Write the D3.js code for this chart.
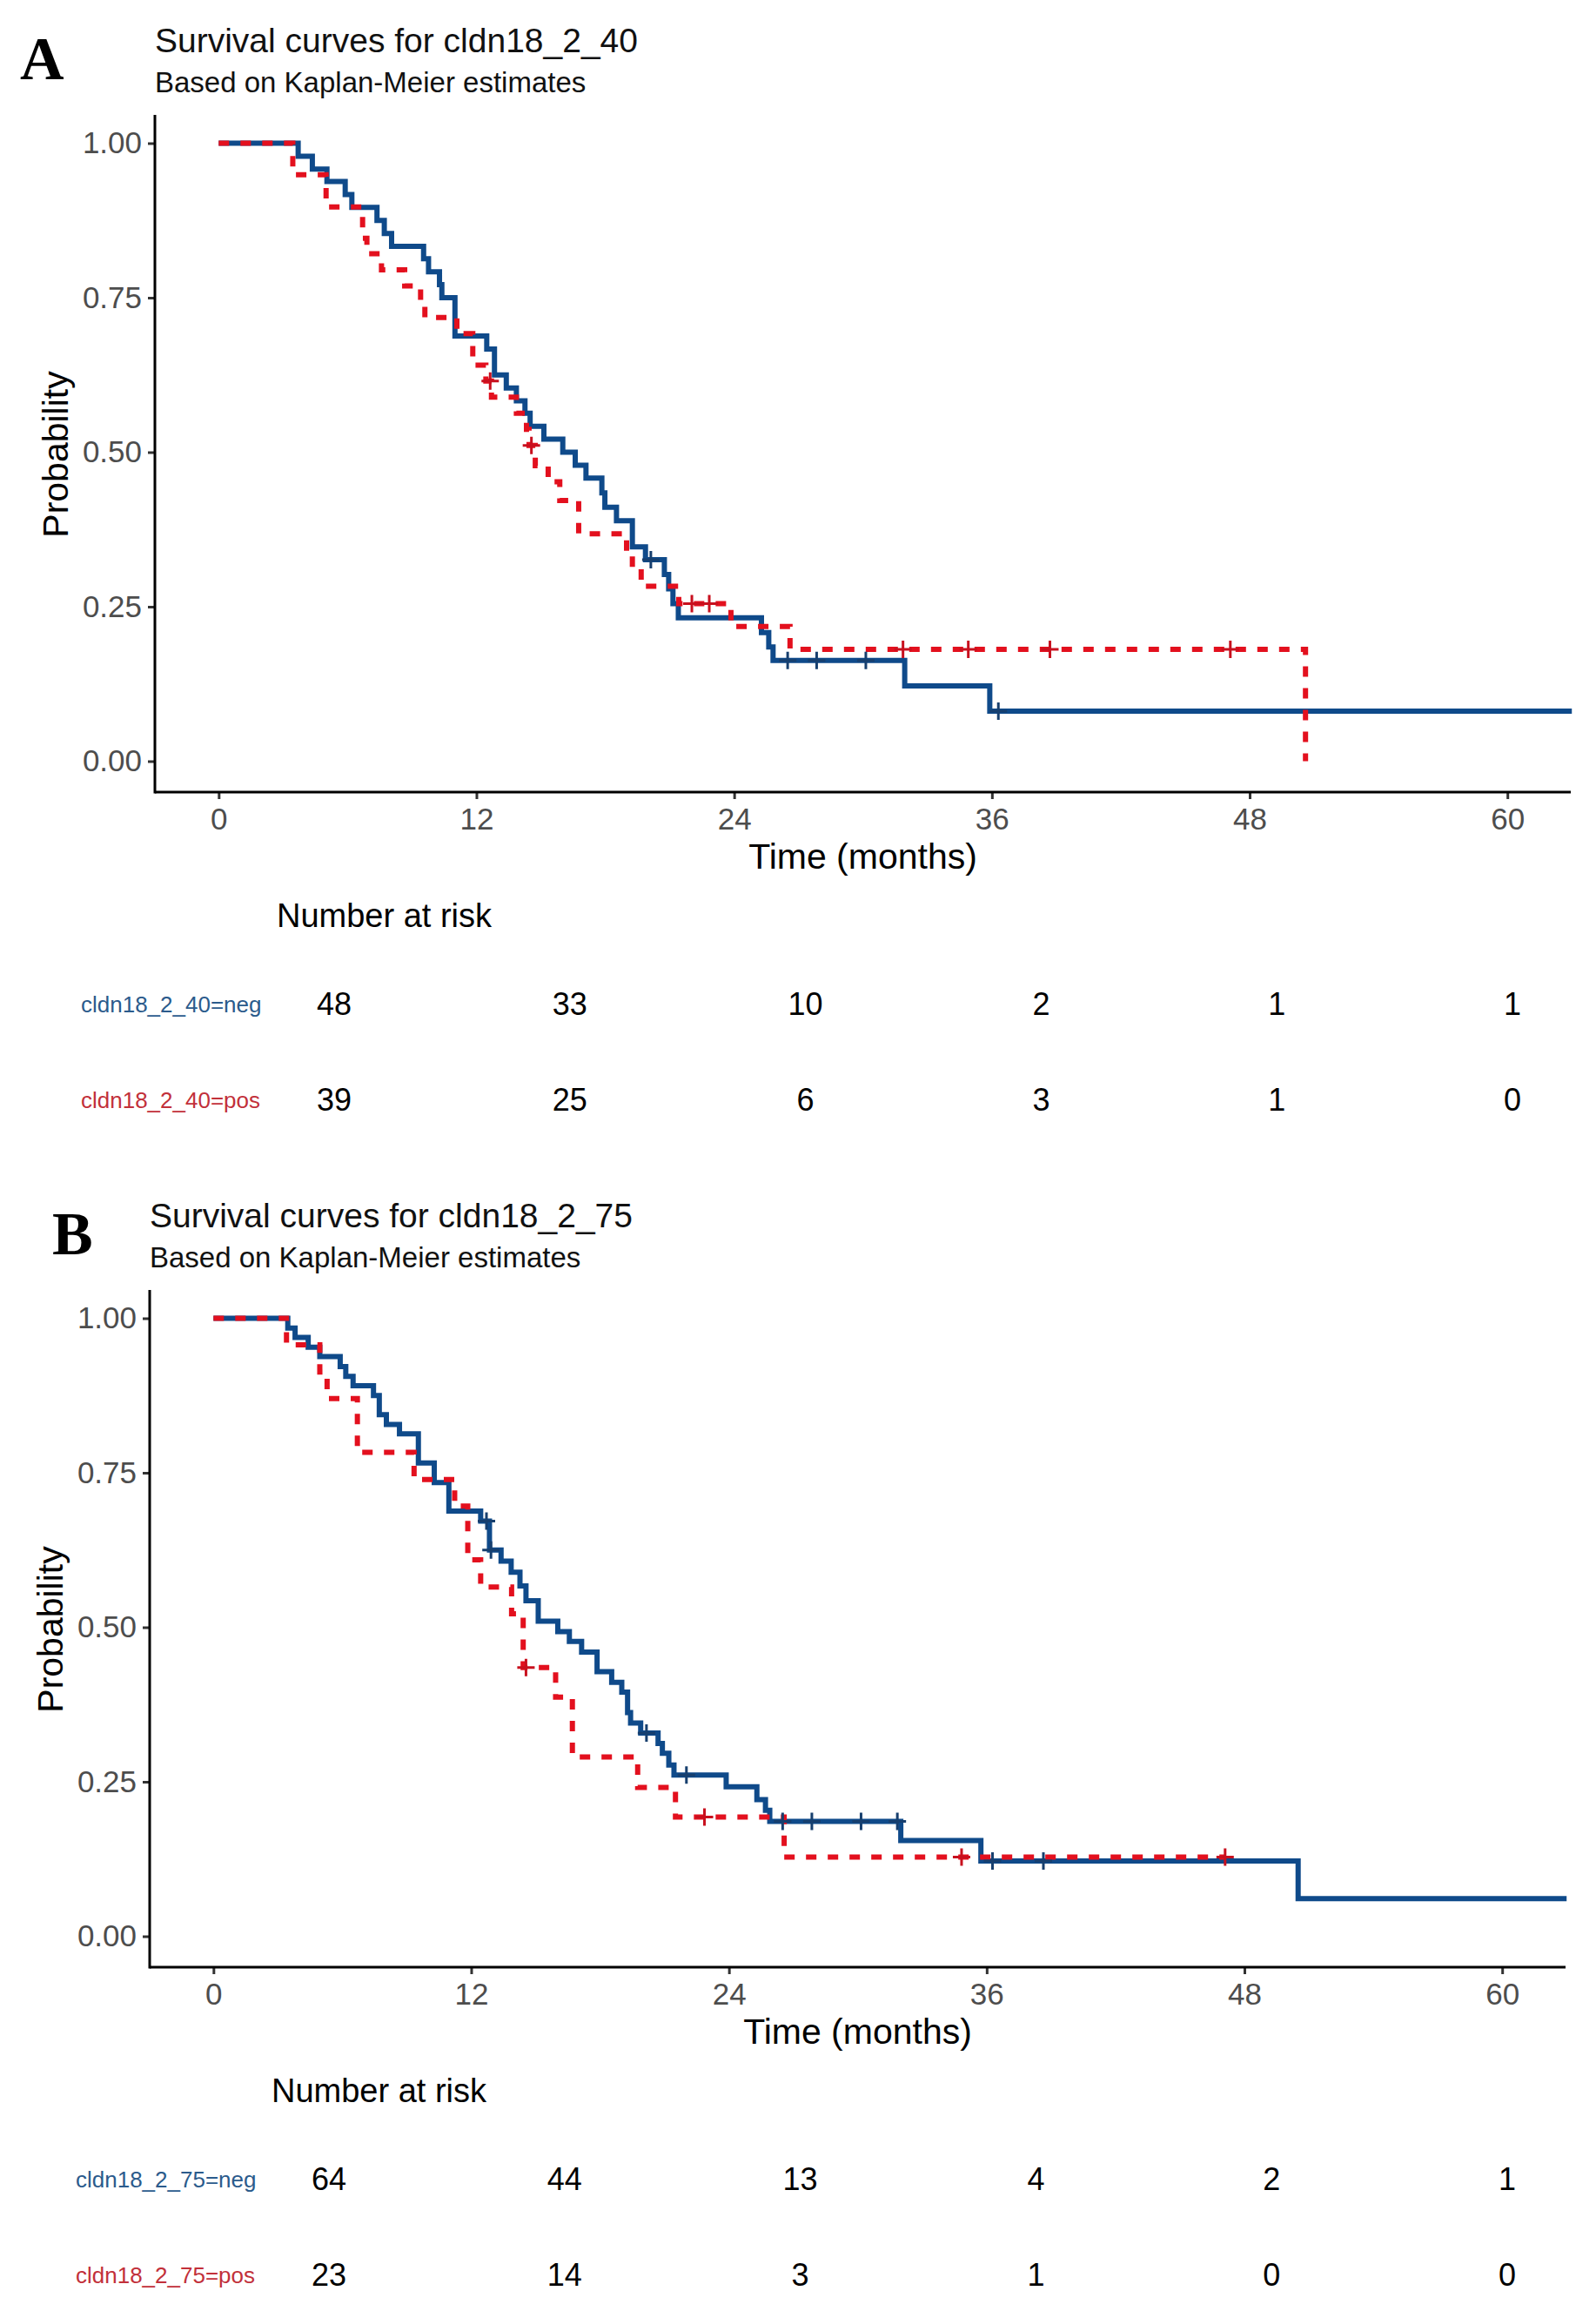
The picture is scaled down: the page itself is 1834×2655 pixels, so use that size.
<!DOCTYPE html>
<html>
<head>
<meta charset="utf-8">
<script src="https://cdn.jsdelivr.net/npm/d3@7"></script>
<style>
  body { margin: 0; background: #fff; }
  text { font-family: "Liberation Sans", Arial, sans-serif; }
</style>
</head>
<body>
<svg id="fig" width="1834" height="2655"></svg>
<script>

// ---- data ----
var xTicks = [0, 12, 24, 36, 48, 60];
var yTicks = [0, 0.25, 0.5, 0.75, 1];
var riskTimes = [0, 12, 24, 36, 48, 60];

// panel A, cldn18_2_40=neg
var aNegTime = [0, 3.7, 4.36, 5.04, 5.89, 6.2, 7.37, 7.71, 8.05, 9.54, 9.77, 10.28, 10.39, 11.0, 12.48, 12.84,
  13.39, 13.86, 14.26, 14.5, 15.14, 16.02, 16.6, 17.1, 17.84, 17.98, 18.52, 19.26, 19.87, 20.75, 20.95,
  21.15, 21.4, 25.27, 25.61, 25.81, 31.94, 35.9, 63];
var aNegSurv = [1, 0.979, 0.958, 0.938, 0.917, 0.896, 0.875, 0.854, 0.833, 0.813, 0.792, 0.771, 0.75, 0.688, 0.667, 0.625,
  0.604, 0.583, 0.563, 0.542, 0.521, 0.5, 0.479, 0.458, 0.434, 0.411, 0.389, 0.347, 0.326, 0.302, 0.279,
  0.255, 0.232, 0.208, 0.185, 0.163, 0.122, 0.081, 0.081];
var aNegCens = [20.12, 26.49, 27.84, 30.13, 36.3];

// panel A, cldn18_2_40=pos
var aPosTime = [0, 3.45, 5.0, 6.7, 6.9, 7.58, 8.66, 9.4, 9.6, 11.09, 11.83, 12.44, 12.7, 13.86, 14.33,
  14.45, 14.74, 15.34, 15.88, 16.76, 18.99, 19.26, 19.67, 21.42, 23.85, 26.6, 50.6];
var aPosSurv = [1, 0.949, 0.897, 0.846, 0.821, 0.795, 0.769, 0.744, 0.718, 0.692, 0.641, 0.615, 0.589, 0.563, 0.537,
  0.511, 0.478, 0.452, 0.422, 0.368, 0.340, 0.312, 0.283, 0.255, 0.218, 0.181, 0];
var aPosCens = [12.64, 14.56, 22.03, 22.84, 31.86, 34.9, 38.7, 47.1];

// panel B, cldn18_2_75=neg
var bNegTime = [0, 3.46, 3.8, 4.41, 4.95, 5.9, 6.16, 6.5, 7.45, 7.72, 8.05, 8.66, 9.54, 10.28, 10.96,
  12.44, 12.85, 13.39, 13.86, 14.27, 14.55, 15.12, 16.03, 16.57, 17.14, 17.86, 18.54, 19.01, 19.28, 19.42,
  19.89, 20.7, 20.9, 21.2, 21.44, 23.87, 25.3, 25.7, 25.9, 32.0, 35.73, 50.5, 63];
var bNegSurv = [1, 0.984, 0.969, 0.953, 0.938, 0.922, 0.906, 0.891, 0.875, 0.844, 0.828, 0.813, 0.766, 0.734, 0.688,
  0.672, 0.625, 0.607, 0.589, 0.567, 0.543, 0.51, 0.493, 0.477, 0.46, 0.428, 0.411, 0.395, 0.362, 0.345,
  0.329, 0.312, 0.296, 0.277, 0.261, 0.242, 0.221, 0.204, 0.186, 0.155, 0.122, 0.061, 0.061];
var bNegCens = [12.71, 12.92, 20.16, 22.02, 26.5, 27.86, 30.15, 31.84, 36.27, 38.64];

// panel B, cldn18_2_75=pos
var bPosTime = [0, 3.4, 4.95, 5.29, 6.7, 9.34, 11.23, 11.84, 12.44, 13.88, 14.42, 15.93, 16.71, 19.75, 21.51, 26.57, 47.1];
var bPosSurv = [1, 0.957, 0.913, 0.870, 0.783, 0.739, 0.696, 0.609, 0.565, 0.522, 0.435, 0.387, 0.290, 0.241, 0.193, 0.128, 0.128];
var bPosCens = [14.55, 22.86, 34.83, 47.1];

// numbers at risk
var riskANeg = [48, 33, 10, 2, 1, 1];
var riskAPos = [39, 25, 6, 3, 1, 0];
var riskBNeg = [64, 44, 13, 4, 2, 1];
var riskBPos = [23, 14, 3, 1, 0, 0];

// ---- drawing ----
var svg = d3.select("#fig");
svg.append("rect").attr("width", 1834).attr("height", 2655).attr("fill", "#fff");

var blue = "#0f4a8a", red = "#e3101e";
var blueText = "#2b5b8c", redText = "#c2303a";

function stepValue(time, surv, t) {
  var v = surv[0];
  for (var i = 0; i < time.length; i++) { if (time[i] <= t) v = surv[i]; }
  return v;
}

function drawPanel(p) {
  var g = svg.append("g").attr("transform", "translate(" + p.dx + "," + p.dy + ")");

  var x = d3.scaleLinear().domain([-2.97, 62.95]).range([178, 1805]);
  var y = d3.scaleLinear().domain([0, 1]).range([874.5, 164.5]);
  var xt = d3.scaleLinear().domain([0, 60]).range([384, 1738]);

  // panel letter + titles
  g.append("text").attr("x", p.letterX - p.dx).attr("y", 91)
    .style("font-family", "'Liberation Serif', 'Times New Roman', serif")
    .style("font-weight", "bold").style("font-size", "70px").text(p.letter);
  g.append("text").attr("x", 178).attr("y", 59.5).style("font-size", "39px").attr("fill", "#111").text(p.title);
  g.append("text").attr("x", 178).attr("y", 106).style("font-size", "33px").attr("fill", "#111")
    .text("Based on Kaplan-Meier estimates");

  // axes
  var xAxis = g.append("g").attr("transform", "translate(0,910)")
    .call(d3.axisBottom(x).tickValues(xTicks).tickSize(8).tickPadding(8));
  var yAxis = g.append("g").attr("transform", "translate(178,0)")
    .call(d3.axisLeft(y).tickValues(yTicks).tickSize(8).tickPadding(7).tickFormat(d3.format(".2f")));
  [xAxis, yAxis].forEach(function(a) {
    a.select(".domain").remove();
    a.selectAll(".tick line").attr("stroke", "#333").attr("stroke-width", 3);
    a.selectAll(".tick text").attr("fill", "#4d4d4d").style("font-size", "35px")
      .style("font-family", "'Liberation Sans', Arial, sans-serif");
  });
  xAxis.selectAll(".tick text").attr("dy", "0.76em");
  g.append("line").attr("x1", 178).attr("x2", 1805).attr("y1", 910).attr("y2", 910)
    .attr("stroke", "#000").attr("stroke-width", 3);
  g.append("line").attr("x1", 178).attr("x2", 178).attr("y1", 132).attr("y2", 911.5)
    .attr("stroke", "#000").attr("stroke-width", 3);

  g.append("text").attr("x", 991.5).attr("y", 998).attr("text-anchor", "middle")
    .style("font-size", "41px").text("Time (months)");
  g.append("text").attr("transform", "translate(78,522) rotate(-90)").attr("text-anchor", "middle")
    .style("font-size", "41px").text("Probability");

  // curves
  var line = d3.line().curve(d3.curveStepAfter).x(function(d) { return x(d[0]); }).y(function(d) { return y(d[1]); });
  p.curves.forEach(function(c) {
    g.append("path").datum(d3.zip(c.time, c.surv)).attr("d", line)
      .attr("fill", "none").attr("stroke", c.color).attr("stroke-width", 6)
      .attr("stroke-dasharray", c.dash ? "12,13" : null)
      .attr("stroke-linejoin", "miter").attr("stroke-linecap", "butt");
  });
  p.curves.forEach(function(c) {
    g.selectAll(null).data(c.cens).enter().append("path")
      .attr("transform", function(t) { return "translate(" + x(t) + "," + y(stepValue(c.time, c.surv, t)) + ")"; })
      .attr("d", "M-10,0H10M0,-10V10")
      .attr("stroke", c.mark).attr("stroke-width", 3).attr("fill", "none");
  });

  // risk table
  g.append("text").attr("x", 318).attr("y", 1065).style("font-size", "38px").text("Number at risk");
  p.rows.forEach(function(r, i) {
    var yy = 1166 + i * 110;
    g.append("text").attr("x", 93).attr("y", yy - 3).style("font-size", "26px")
      .attr("fill", r.color).text(r.label);
    g.selectAll(null).data(r.values).enter().append("text")
      .attr("x", function(d, j) { return xt(riskTimes[j]); }).attr("y", yy)
      .attr("text-anchor", "middle").style("font-size", "36px").attr("fill", "#000")
      .text(function(d) { return d; });
  });
}

drawPanel({
  dx: 0, dy: 0, letter: "A", letterX: 23, title: "Survival curves for cldn18_2_40",
  curves: [
    { time: aNegTime, surv: aNegSurv, cens: aNegCens, color: blue, mark: "#173f6e", dash: false },
    { time: aPosTime, surv: aPosSurv, cens: aPosCens, color: red, mark: "#c8101e", dash: true }
  ],
  rows: [
    { label: "cldn18_2_40=neg", values: riskANeg, color: blueText },
    { label: "cldn18_2_40=pos", values: riskAPos, color: redText }
  ]
});

drawPanel({
  dx: -6, dy: 1350, letter: "B", letterX: 60, title: "Survival curves for cldn18_2_75",
  curves: [
    { time: bNegTime, surv: bNegSurv, cens: bNegCens, color: blue, mark: "#173f6e", dash: false },
    { time: bPosTime, surv: bPosSurv, cens: bPosCens, color: red, mark: "#c8101e", dash: true }
  ],
  rows: [
    { label: "cldn18_2_75=neg", values: riskBNeg, color: blueText },
    { label: "cldn18_2_75=pos", values: riskBPos, color: redText }
  ]
});

</script>
</body>
</html>
